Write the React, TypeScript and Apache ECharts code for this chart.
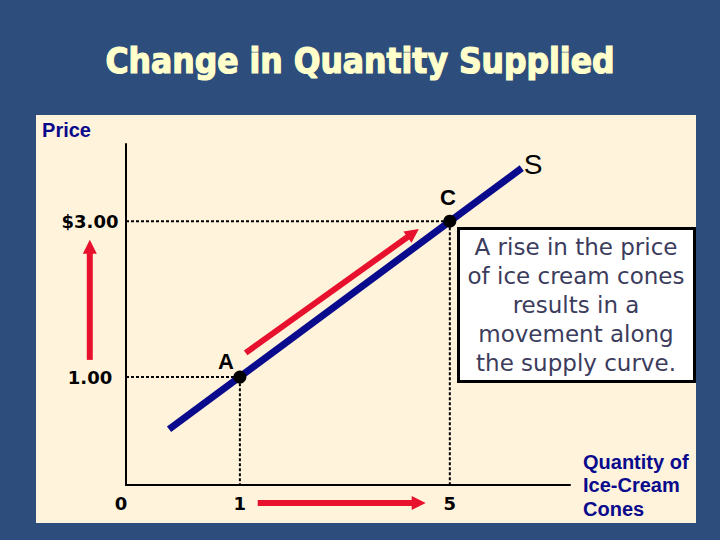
import React, { useEffect, useRef } from 'react';
import * as echarts from 'echarts';

const TITLE = 'Change in Quantity Supplied';
const PRICE_AXIS_NAME = 'Price';
const QTY_AXIS_NAME = 'Quantity of\nIce-Cream\nCones';

// Schematic axes: the origin is labelled "0" but the chart is not drawn to scale from it
const QTY_ORIGIN = -1.17;
const QTY_END = 7.29;
const PRICE_ORIGIN = -0.385;
const PRICE_END = 3.99;

const qtyTicks = [QTY_ORIGIN, 1, 5];
const qtyTickLabels = ['0', '1', '5'];
const priceTicks = [1, 3];
const priceTickLabels = ['1.00', '$3.00'];

const pointNames = ['A', 'C'];
const pointQty = [1, 5];
const pointPrice = [1, 3];
const pointLabelOffsets = [[-14, -16], [-2, -24]];

const supplyName = 'S';
const supplyQty = [-0.35, 6.37];
const supplyPrice = [0.33, 3.68];

// red arrows: [qty start, price start, qty end, price end]
const arrowMove = [1.11, 1.31, 4.41, 2.9];
const arrowPrice = [-1.86, 1.22, -1.86, 2.76];
const arrowQty = [1.34, -0.615, 4.54, -0.615];

const NOTE_LINES = [
  'A rise in the price',
  'of ice cream cones',
  'results in a',
  'movement along',
  'the supply curve.',
];

const BG = '#2D4D7C';
const CREAM = '#FFF3DC';
const NAVY = '#0A0A8C';
const RED = '#E8112D';
const SUPPLY = '#0A0A8C';

export default function App() {
  const ref = useRef<HTMLDivElement>(null);

  useEffect(() => {
    if (!ref.current) return;
    const chart = echarts.init(ref.current, undefined, { renderer: 'svg' });

    const labelFont = {
      fontFamily: 'DejaVu Sans',
      fontWeight: 'bold' as const,
      fontSize: 18,
      color: '#000',
    };

    const findIdx = (arr: number[], v: number) =>
      arr.findIndex((t) => Math.abs(t - v) < 1e-6);

    const option: any = {
      animation: false,
      backgroundColor: BG,
      title: {
        text: TITLE,
        left: 'center',
        top: 38,
        textStyle: {
          color: '#FFFFCC',
          fontFamily: 'DejaVu Sans Condensed, DejaVu Sans',
          fontWeight: 'bold',
          fontSize: 35,
          textBorderColor: '#FFFFCC',
          textBorderWidth: 1.2,
        },
      },
      graphic: [
        {
          type: 'rect',
          z: -1,
          silent: true,
          shape: { x: 36, y: 115, width: 660, height: 408 },
          style: { fill: CREAM },
        },
        {
          type: 'group',
          z: 100,
          x: 457,
          y: 227,
          children: [
            {
              type: 'rect',
              shape: { x: 1.5, y: 1.5, width: 236, height: 153 },
              style: { fill: '#FFFFFF', stroke: '#000', lineWidth: 3 },
            },
            {
              type: 'text',
              x: 119,
              y: 78,
              style: {
                text: NOTE_LINES.join('\n'),
                align: 'center',
                verticalAlign: 'middle',
                fontSize: 23,
                lineHeight: 29,
                fontFamily: 'DejaVu Sans',
                fill: '#3C3C5C',
              },
            },
          ],
        },
      ],
      grid: { left: 126, top: 144, width: 444, height: 341 },
      xAxis: {
        type: 'value',
        min: QTY_ORIGIN,
        max: QTY_END,
        name: QTY_AXIS_NAME,
        nameLocation: 'end',
        nameGap: 13,
        nameTextStyle: {
          color: NAVY,
          fontFamily: 'Liberation Sans',
          fontWeight: 'bold',
          fontSize: 20,
          lineHeight: 23.5,
          align: 'left',
          verticalAlign: 'middle',
        },
        axisLine: { show: true, onZero: false, lineStyle: { color: '#000', width: 2 } },
        axisTick: { show: false },
        splitLine: { show: false },
        axisLabel: {
          customValues: qtyTicks,
          margin: 18,
          verticalAlign: 'middle',
          ...labelFont,
          formatter: (v: number) => {
            const i = findIdx(qtyTicks, v);
            if (i < 0) return '';
            return i === 0 ? `{o|${qtyTickLabels[i]}}` : qtyTickLabels[i];
          },
          rich: {
            o: { ...labelFont, padding: [0, 10, 0, 0] },
          },
        },
      },
      yAxis: {
        type: 'value',
        min: PRICE_ORIGIN,
        max: PRICE_END,
        name: PRICE_AXIS_NAME,
        nameLocation: 'end',
        nameGap: 14,
        nameTextStyle: {
          color: NAVY,
          fontFamily: 'Liberation Sans',
          fontWeight: 'bold',
          fontSize: 20,
          align: 'right',
          verticalAlign: 'middle',
          padding: [0, 35, 0, 0],
        },
        axisLine: { show: true, onZero: false, lineStyle: { color: '#000', width: 2 } },
        axisTick: { show: false },
        splitLine: { show: false },
        axisLabel: {
          customValues: priceTicks,
          margin: 36,
          align: 'center',
          verticalAlign: 'middle',
          ...labelFont,
          formatter: (v: number) => {
            const i = findIdx(priceTicks, v);
            return i < 0 ? '' : priceTickLabels[i];
          },
        },
      },
      series: [
        ...pointNames.map((_, i) => ({
          type: 'line',
          z: 1,
          symbol: 'none',
          silent: true,
          data: [
            [QTY_ORIGIN, pointPrice[i]],
            [pointQty[i], pointPrice[i]],
            [pointQty[i], PRICE_ORIGIN],
          ],
          lineStyle: { color: '#000', width: 2, type: [3, 2] },
        })),
        {
          type: 'line',
          name: supplyName,
          z: 3,
          symbol: 'none',
          silent: true,
          data: supplyQty.map((q, i) => [q, supplyPrice[i]]),
          lineStyle: { color: SUPPLY, width: 7, cap: 'butt' },
          endLabel: {
            show: true,
            formatter: supplyName,
            distance: 2,
            offset: [0, -4],
            fontFamily: 'Liberation Sans',
            fontSize: 28,
            color: '#000',
          },
        },
        {
          type: 'custom',
          z: 5,
          clip: false,
          silent: true,
          data: pointNames.map((_, i) => [pointQty[i], pointPrice[i], i]),
          renderItem: (params: any, api: any) => {
            const c = api.coord([api.value(0), api.value(1)]);
            const i = api.value(2);
            const off = pointLabelOffsets[i];
            return {
              type: 'group',
              children: [
                {
                  type: 'circle',
                  shape: { cx: c[0], cy: c[1], r: 6.5 },
                  style: { fill: '#000' },
                },
                {
                  type: 'text',
                  x: c[0] + off[0],
                  y: c[1] + off[1],
                  style: {
                    text: pointNames[i],
                    align: 'center',
                    verticalAlign: 'middle',
                    fontFamily: 'Liberation Sans',
                    fontWeight: 'bold',
                    fontSize: 22,
                    fill: '#000',
                  },
                },
              ],
            };
          },
        },
        {
          type: 'custom',
          z: 6,
          clip: false,
          silent: true,
          encode: { x: [0, 2], y: [1, 3] },
          data: [arrowMove, arrowPrice, arrowQty],
          renderItem: (params: any, api: any) => {
            const p1 = api.coord([api.value(0), api.value(1)]);
            const p2 = api.coord([api.value(2), api.value(3)]);
            const dx = p2[0] - p1[0];
            const dy = p2[1] - p1[1];
            const len = Math.hypot(dx, dy) || 1;
            const ux = dx / len;
            const uy = dy / len;
            const head = 14;
            const half = 7;
            const bx = p2[0] - ux * head;
            const by = p2[1] - uy * head;
            return {
              type: 'group',
              children: [
                {
                  type: 'line',
                  shape: { x1: p1[0], y1: p1[1], x2: bx + ux, y2: by + uy },
                  style: { stroke: RED, lineWidth: 6 },
                },
                {
                  type: 'polygon',
                  shape: {
                    points: [
                      [p2[0], p2[1]],
                      [bx - uy * half, by + ux * half],
                      [bx + uy * half, by - ux * half],
                    ],
                  },
                  style: { fill: RED },
                },
              ],
            };
          },
        },
      ],
    };

    chart.setOption(option);
    return () => chart.dispose();
  }, []);

  return (
    <div
      ref={ref}
      style={{ position: 'absolute', left: 0, top: 0, width: 720, height: 540 }}
    />
  );
}
